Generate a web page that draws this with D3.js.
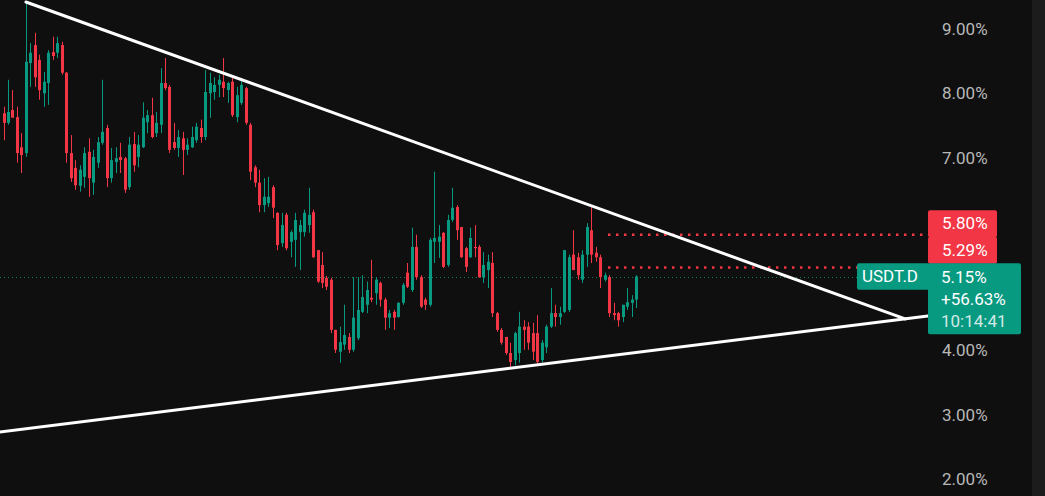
<!DOCTYPE html>
<html>
<head>
<meta charset="utf-8">
<script src="https://cdnjs.cloudflare.com/ajax/libs/d3/7.8.5/d3.min.js"></script>
<style>
    html, body { margin: 0; padding: 0; background: #0f0f0f; overflow: hidden; }
    #chart { width: 1045px; height: 496px; }
    text { font-family: Roboto, "Noto Sans", sans-serif; }
</style>
</head>
<body>
<div id="chart"></div>
<script>

// USDT.D candles (percent)
var opens = [7.69, 7.54, 7.74, 7.63, 7.16, 7.07, 8.47, 8.75, 8.52, 8.00,
    8.16, 8.64, 8.63, 8.75, 8.32, 7.07, 6.84, 6.56, 6.70, 7.09,
    6.61, 6.92, 7.23, 7.46, 6.68, 6.93, 7.01, 6.99, 6.54, 7.21,
    7.01, 7.16, 7.55, 7.66, 7.38, 7.51, 8.16, 8.10, 7.24, 7.15,
    7.30, 7.12, 7.16, 7.27, 7.46, 7.32, 8.00, 8.02, 8.13, 8.18,
    8.05, 8.18, 7.63, 7.85, 8.08, 7.51, 6.85, 6.61, 6.26, 6.29,
    6.54, 6.14, 5.67, 6.11, 5.69, 5.72, 5.84, 5.84, 5.95, 6.15,
    5.56, 5.33, 5.13, 5.10, 4.32, 3.98, 4.09, 4.21, 4.01, 4.19,
    4.60, 4.71, 4.82, 4.89, 5.05, 4.79, 4.51, 4.60, 4.52, 4.74,
    5.21, 4.94, 5.61, 5.14, 4.79, 4.71, 5.69, 5.69, 5.83, 5.33,
    6.03, 6.23, 5.92, 5.59, 5.45, 5.61, 5.61, 5.14, 5.25, 5.36,
    4.58, 4.32, 4.21, 3.96, 3.85, 3.96, 4.37, 4.37, 4.27, 4.27,
    3.85, 4.05, 4.37, 4.58, 4.52, 4.60, 4.63, 5.49, 5.45, 5.10,
    5.49, 5.87, 5.52, 5.45, 5.10, 5.14, 4.58, 4.58, 4.52, 4.68,
    4.74, 4.79];
var highs = [7.79, 8.21, 8.05, 7.79, 7.38, 9.42, 8.78, 8.94, 8.60, 8.33,
    8.67, 8.88, 8.88, 8.80, 8.33, 7.35, 6.96, 6.88, 7.16, 7.30,
    7.12, 7.32, 8.21, 7.51, 7.15, 7.16, 7.23, 7.01, 7.32, 7.40,
    7.35, 7.86, 7.74, 7.93, 7.71, 8.39, 8.55, 8.13, 7.54, 7.43,
    7.40, 7.30, 7.48, 7.54, 7.59, 8.36, 8.32, 8.25, 8.29, 8.55,
    8.18, 8.24, 8.10, 8.24, 8.10, 7.54, 6.88, 6.81, 6.68, 6.70,
    6.57, 6.15, 6.14, 6.14, 5.87, 6.14, 6.03, 6.19, 6.53, 6.19,
    5.56, 5.53, 5.16, 5.13, 4.32, 4.37, 4.71, 4.27, 5.14, 5.14,
    5.17, 5.07, 5.41, 5.13, 5.07, 4.82, 4.63, 4.63, 4.75, 5.05,
    5.36, 5.91, 5.80, 5.17, 4.82, 5.75, 6.78, 5.95, 5.84, 6.11,
    6.53, 6.26, 5.92, 5.61, 5.91, 5.95, 5.64, 5.53, 5.49, 5.53,
    4.60, 4.35, 4.21, 4.12, 4.29, 4.60, 4.47, 4.44, 4.43, 4.55,
    4.16, 4.40, 4.97, 4.71, 4.68, 5.56, 5.49, 5.87, 5.52, 5.56,
    5.98, 6.23, 5.61, 5.49, 5.21, 5.17, 4.74, 4.60, 4.71, 4.97,
    4.86, 5.17];
var lows = [7.27, 7.51, 7.63, 6.92, 6.76, 7.01, 8.10, 8.10, 7.90, 7.79,
    7.82, 8.52, 8.55, 8.29, 6.92, 6.62, 6.50, 6.47, 6.53, 6.39,
    6.42, 6.84, 7.20, 6.54, 6.61, 6.76, 6.76, 6.45, 6.50, 6.78,
    6.85, 7.15, 7.38, 7.30, 7.32, 7.38, 8.05, 7.07, 7.12, 7.01,
    6.73, 7.04, 7.15, 7.23, 7.23, 7.27, 7.62, 7.90, 7.94, 7.94,
    7.85, 7.63, 7.55, 7.82, 7.51, 6.65, 6.54, 6.15, 6.15, 6.23,
    6.06, 5.56, 5.61, 5.56, 5.45, 5.30, 5.25, 5.77, 5.83, 5.44,
    5.05, 4.97, 4.94, 4.27, 3.96, 3.81, 4.01, 3.96, 3.98, 4.16,
    4.58, 4.58, 4.75, 4.71, 4.68, 4.32, 4.35, 4.32, 4.51, 4.71,
    4.97, 4.91, 5.10, 4.66, 4.63, 4.68, 5.36, 5.44, 5.28, 5.30,
    6.00, 5.72, 5.44, 5.22, 5.44, 5.45, 5.13, 5.05, 4.97, 4.52,
    4.29, 4.09, 3.93, 3.74, 3.77, 3.81, 4.01, 4.01, 3.85, 3.77,
    3.81, 3.96, 4.35, 4.37, 4.40, 4.58, 4.60, 5.25, 5.10, 5.05,
    5.30, 5.36, 5.38, 4.97, 5.07, 4.52, 4.47, 4.37, 4.44, 4.63,
    4.52, 4.66];
var closes = [7.54, 7.71, 7.62, 7.07, 7.04, 8.49, 8.63, 8.25, 8.05, 8.18,
    8.63, 8.58, 8.78, 8.32, 7.07, 6.68, 6.57, 6.81, 7.07, 6.68,
    7.01, 7.24, 7.40, 6.68, 6.96, 6.99, 6.96, 6.50, 7.20, 6.88,
    7.20, 7.62, 7.66, 7.32, 7.54, 8.16, 8.08, 7.12, 7.15, 7.32,
    7.12, 7.20, 7.32, 7.48, 7.32, 8.02, 8.16, 8.13, 8.21, 8.08,
    8.16, 7.66, 7.97, 8.13, 7.54, 6.78, 6.61, 6.26, 6.39, 6.39,
    6.22, 5.64, 5.95, 5.59, 5.84, 6.03, 5.95, 6.14, 6.11, 5.45,
    5.07, 5.05, 4.99, 4.32, 4.01, 4.13, 4.24, 4.01, 4.51, 4.63,
    4.83, 4.94, 4.79, 5.10, 4.79, 4.51, 4.58, 4.51, 4.74, 5.02,
    4.99, 5.61, 5.14, 4.68, 4.71, 5.72, 5.75, 5.77, 5.30, 6.03,
    6.22, 5.87, 5.45, 5.30, 5.75, 5.59, 5.14, 5.33, 5.38, 4.58,
    4.32, 4.12, 3.96, 3.82, 4.27, 4.37, 4.32, 4.12, 3.98, 3.82,
    4.12, 4.37, 4.58, 4.52, 4.58, 5.56, 5.45, 5.25, 5.17, 5.49,
    5.92, 5.49, 5.45, 5.14, 5.17, 4.58, 4.55, 4.47, 4.71, 4.75,
    4.79, 5.15];

// right price scale
var priceTicks = [2, 3, 4, 5, 6, 7, 8, 9];

// drawings: [bar index, price]
var upperTrend = [[5, 9.42], [201, 4.49]];
var lowerTrend = [[-1, 2.73], [206.5, 4.54]];
var levelPrices = [5.80, 5.29];
var levelStart = 134.75;

var symbol = "USDT.D";
var lastPrice = 5.15;
var lastChange = "+56.63%";
var countdown = "10:14:41";

var upColor = "#089981",
    downColor = "#f23645";

var drawChart = function(htmlID) {

    var width = 1045,
        height = 496,
        axisLeft = 928,
        stripLeft = 1032,
        fontSize = '17px';

    var svg = d3.select(htmlID)
        .append('svg')
        .attr('width', width)
        .attr('height', height);

    svg.append('rect')
        .attr('width', width)
        .attr('height', height)
        .attr('fill', '#0f0f0f');

    svg.append('rect')
        .attr('x', stripLeft)
        .attr('width', width - stripLeft)
        .attr('height', height)
        .attr('fill', '#1c1c1c');

    var x = d3.scaleLinear().domain([0, closes.length - 1]).range([3.5, 636]);
    var y = d3.scaleLinear().domain([2, 9]).range([479, 29]);

    var candles = closes.map(function(c, i) {
        return { i: i, o: opens[i], h: highs[i], l: lows[i], c: c };
    });

    /* price tags, stacked upward so they do not overlap */
    var boxH = 26.5;
    var mainTop = y(lastPrice) - boxH / 2;
    var mainH = 71;
    var floor = mainTop;
    var tags = levelPrices.slice().sort(function(a, b) { return a - b; }).map(function(p) {
        var top = Math.min(y(p) - boxH / 2, floor - boxH);
        floor = top;
        return { p: p, top: top };
    });

    // scale labels that would sit under a tag are hidden
    var visibleTicks = priceTicks.filter(function(t) {
        var ty = y(t);
        return !(ty > floor - 8 && ty < mainTop + mainH + 8);
    });

    /* price axis */
    var axis = d3.axisRight(y)
        .tickValues(visibleTicks)
        .tickSize(0)
        .tickPadding(14)
        .tickFormat(function(d) { return d.toFixed(2) + '%'; });

    var ax = svg.append('g')
        .attr('transform', 'translate(' + axisLeft + ',0)')
        .call(axis);
    ax.select('.domain').remove();
    ax.selectAll('text')
        .attr('fill', '#b8b8b8')
        .style('font-size', fontSize);

    /* last price line */
    svg.append('line')
        .attr('x1', 0)
        .attr('x2', axisLeft)
        .attr('y1', Math.round(y(lastPrice)) + 0.5)
        .attr('y2', Math.round(y(lastPrice)) + 0.5)
        .attr('stroke', upColor)
        .attr('stroke-opacity', 0.8)
        .attr('stroke-width', 1)
        .attr('stroke-dasharray', '1,3');

    /* candles */
    var g = svg.append('g');

    g.selectAll('line.wick')
        .data(candles)
        .enter().append('line')
        .attr('class', 'wick')
        .attr('x1', function(d) { return Math.round(x(d.i)) + 0.5; })
        .attr('x2', function(d) { return Math.round(x(d.i)) + 0.5; })
        .attr('y1', function(d) { return y(d.h); })
        .attr('y2', function(d) { return y(d.l); })
        .attr('stroke', function(d) { return d.c >= d.o ? upColor : downColor; })
        .attr('stroke-width', 1);

    g.selectAll('rect.body')
        .data(candles)
        .enter().append('rect')
        .attr('class', 'body')
        .attr('x', function(d) { return Math.round(x(d.i)) - 1; })
        .attr('width', 3)
        .attr('y', function(d) { return y(Math.max(d.o, d.c)); })
        .attr('height', function(d) { return Math.max(1, Math.abs(y(d.o) - y(d.c))); })
        .attr('fill', function(d) { return d.c >= d.o ? upColor : downColor; });

    /* horizontal levels */
    svg.selectAll('line.level')
        .data(levelPrices)
        .enter().append('line')
        .attr('class', 'level')
        .attr('x1', x(levelStart))
        .attr('x2', axisLeft)
        .attr('y1', function(d) { return y(d); })
        .attr('y2', function(d) { return y(d); })
        .attr('stroke', downColor)
        .attr('stroke-width', 2.5)
        .attr('stroke-dasharray', '2.5,5.5');

    /* triangle */
    var line = d3.line()
        .x(function(d) { return x(d[0]); })
        .y(function(d) { return y(d[1]); });

    svg.selectAll('path.trend')
        .data([upperTrend, lowerTrend])
        .enter().append('path')
        .attr('class', 'trend')
        .attr('d', line)
        .attr('fill', 'none')
        .attr('stroke', '#ffffff')
        .attr('stroke-width', 3)
        .attr('stroke-linecap', 'round');

    var tg = svg.append('g');
    tags.forEach(function(t) {
        tg.append('rect')
            .attr('x', axisLeft)
            .attr('y', t.top)
            .attr('width', 69)
            .attr('height', boxH + 0.5)
            .attr('rx', 2)
            .attr('fill', downColor);
        tg.append('text')
            .attr('x', axisLeft + 14)
            .attr('y', t.top + boxH / 2)
            .attr('dy', '0.35em')
            .attr('fill', '#ffffff')
            .style('font-size', fontSize)
            .text(t.p.toFixed(2) + '%');
    });

    // symbol tag
    tg.append('rect')
        .attr('x', 857)
        .attr('y', mainTop)
        .attr('width', axisLeft - 857 + 2)
        .attr('height', boxH)
        .attr('rx', 2)
        .attr('fill', upColor);
    tg.append('text')
        .attr('x', 862)
        .attr('y', mainTop + boxH / 2)
        .attr('dy', '0.35em')
        .attr('fill', '#ffffff')
        .style('font-size', fontSize)
        .text(symbol);

    // last price block
    tg.append('rect')
        .attr('x', axisLeft)
        .attr('y', mainTop)
        .attr('width', 93)
        .attr('height', mainH)
        .attr('rx', 2)
        .attr('fill', upColor);

    var rows = [lastPrice.toFixed(2) + '%', lastChange, countdown];
    rows.forEach(function(r, k) {
        tg.append('text')
            .attr('x', axisLeft + 13)
            .attr('y', mainTop + 14 + k * 21.7)
            .attr('dy', '0.35em')
            .attr('fill', k == 2 ? 'rgba(255,255,255,0.82)' : '#ffffff')
            .style('font-size', fontSize)
            .text(r);
    });
}

drawChart('#chart');

</script>
</body>
</html>
